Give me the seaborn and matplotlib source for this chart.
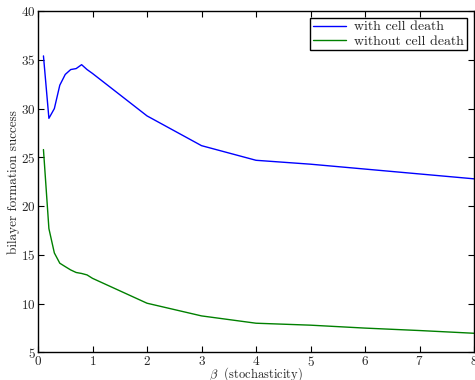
import pandas as pd
import seaborn as sns
import matplotlib
matplotlib.use("Agg")
import matplotlib.pyplot as plt

beta = [0.1, 0.2, 0.3, 0.4, 0.5, 0.6, 0.7, 0.8, 0.9, 1.0, 2, 3, 4, 5, 6, 7, 8]
with_death = [35.4, 29.0, 30.0, 32.4, 33.5, 34.0, 34.1, 34.5, 34.0, 33.6,
              29.25, 26.2, 24.7, 24.3, 23.8, 23.3, 22.8]
without_death = [25.8, 17.7, 15.2, 14.15, 13.8, 13.46, 13.2, 13.1, 12.95, 12.6,
                 10.05, 8.75, 8.0, 7.8, 7.5, 7.25, 6.97]
labels = ["with cell death", "without cell death"]

df = pd.concat([
    pd.DataFrame({"beta": beta, "success": with_death, "series": labels[0]}),
    pd.DataFrame({"beta": beta, "success": without_death, "series": labels[1]}),
])

sns.set_style("ticks")
plt.rcParams.update({
    "font.family": "serif",
    "font.serif": ["cmr10", "DejaVu Serif"],
    "mathtext.fontset": "cm",
    "axes.formatter.use_mathtext": True,
    "font.size": 9.5,
    "xtick.direction": "in",
    "ytick.direction": "in",
    "xtick.top": True,
    "ytick.right": True,
})

fig = plt.figure(figsize=(4.75, 3.8), dpi=100)
ax = fig.add_axes([0.08, 0.0724, 0.918, 0.8986])

sns.lineplot(data=df, x="beta", y="success", hue="series",
             palette={labels[0]: "#0000ff", labels[1]: "#008000"},
             linewidth=1.0, ax=ax)

ax.set_xlim(0, 8)
ax.set_ylim(5, 40)
ax.set_xlabel(r"$\beta\ $ (stochasticity)", fontsize=9)
ax.xaxis.set_label_coords(0.5, -0.038)
ax.set_ylabel("bilayer formation success", fontsize=9.5, labelpad=1)
for s in ax.spines.values():
    s.set_visible(True)
    s.set_color("black")
    s.set_linewidth(1.0)
ax.tick_params(labelsize=9.5, length=4, color="black", pad=1.5)

leg = ax.legend(loc="upper right", fontsize=10, fancybox=False,
                edgecolor="black", framealpha=1, handlelength=2.4,
                borderpad=0.2, labelspacing=0.1, handletextpad=0.6,
                borderaxespad=0.5)
leg.get_frame().set_linewidth(1.0)

fig.savefig("out.png", dpi=100)
